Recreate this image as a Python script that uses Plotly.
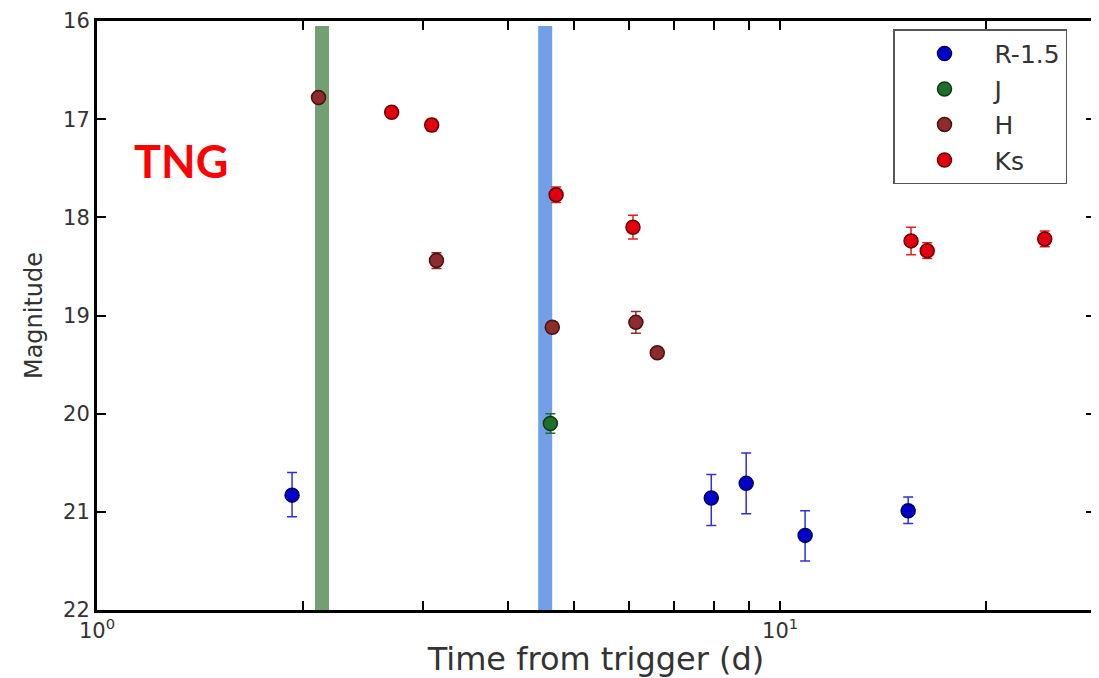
import plotly.graph_objects as go

# R-1.5 band
r_t = [1.93, 7.93, 8.92, 10.88, 15.4]
r_mag = [20.83, 20.86, 20.71, 21.24, 20.99]
r_err_up = [0.22, 0.28, 0.31, 0.26, 0.13]
r_err_dn = [0.23, 0.24, 0.31, 0.25, 0.14]

# J band
j_t = [4.61]
j_mag = [20.10]
j_err = [0.10]

# H band
h_t = [2.11, 3.14, 4.64, 6.15, 6.61]
h_mag = [16.78, 18.44, 19.12, 19.07, 19.38]
h_err = [0.04, 0.08, 0.05, 0.11, 0.04]

# Ks band
k_t = [2.70, 3.09, 4.70, 6.09, 15.55, 16.42, 24.4]
k_mag = [16.93, 17.06, 17.77, 18.10, 18.24, 18.34, 18.22]
k_err = [0.04, 0.06, 0.08, 0.12, 0.14, 0.08, 0.08]

# Observation epochs marked with vertical bands
band_t = [2.135, 4.53]
band_colors = ["rgba(100,150,100,0.9)", "rgba(95,150,230,0.9)"]
band_mag = [16.05, 22.0]

x_ticks = [1, 10]
x_ticktext = ["10<sup>0</sup>", "10<sup>1</sup>"]
x_minor = [2, 3, 4, 5, 6, 7, 8, 9, 20]
y_ticks = [16, 17, 18, 19, 20, 21, 22]

fig = go.Figure()

for t, c in zip(band_t, band_colors):
    fig.add_trace(go.Scatter(x=[t, t], y=band_mag, mode="lines",
                             line=dict(color=c, width=14),
                             showlegend=False, hoverinfo="skip"))

series = [
    ("R-1.5", r_t, r_mag, r_err_up, r_err_dn, "#0000c8", "#00006a", "#3030d0"),
    ("J", j_t, j_mag, j_err, j_err, "#1f6f2a", "#0d3a12", "#1f6f2a"),
    ("H", h_t, h_mag, h_err, h_err, "#8e2b2b", "#4a1010", "#8e2b2b"),
    ("Ks", k_t, k_mag, k_err, k_err, "#e00010", "#6a0000", "#e02020"),
]

for name, xs, ys, eu, ed, fill, edge, ecol in series:
    fig.add_trace(go.Scatter(
        x=xs, y=ys, mode="markers", name=name, legendgroup=name,
        marker=dict(size=14, color=fill, line=dict(color=edge, width=1.5)),
        error_y=dict(type="data", array=eu, arrayminus=ed, symmetric=False,
                     color=ecol, thickness=1.5, width=5),
    ))

fig.add_annotation(x=0.035, y=0.762, xref="paper", yref="paper",
                   text="<b>TNG</b>", showarrow=False,
                   font=dict(family="Comic Sans MS, Lato, sans-serif", size=45, color="#ff0000"),
                   xanchor="left", yanchor="middle")

fam = "DejaVu Sans, sans-serif"
tick_col = "#333333"

fig.update_layout(
    width=1091, height=670,
    margin=dict(l=89, r=4, t=13, b=68),
    paper_bgcolor="white", plot_bgcolor="white",
    font=dict(family=fam, size=20, color=tick_col),
    legend=dict(x=0.7976, y=0.986, xanchor="left", yanchor="top",
                bgcolor="white", bordercolor="#555555", borderwidth=1.5,
                font=dict(family=fam, size=25, color=tick_col),
                itemwidth=90, tracegroupgap=0),
    xaxis=dict(type="log", range=[0, 1.461], automargin=False,
               tickvals=x_ticks, ticktext=x_ticktext,
               ticks="inside", ticklen=9, tickwidth=2, tickcolor="black",
               minor=dict(tickvals=x_minor, ticks="inside", ticklen=9,
                          tickwidth=2, tickcolor="black"),
               showline=True, linecolor="black", linewidth=3, mirror="ticks",
               showgrid=False, zeroline=False,
               title=dict(text="Time from trigger (d)",
                          font=dict(family=fam, size=32, color=tick_col), standoff=2),
               tickfont=dict(family=fam, size=21, color=tick_col)),
    yaxis=dict(range=[22, 16], tickvals=y_ticks, automargin=False,
               ticklabeloverflow="allow",
               ticks="inside", ticklen=9, tickwidth=2, tickcolor="black",
               showline=True, linecolor="black", linewidth=3, mirror="ticks",
               showgrid=False, zeroline=False,
               title=dict(text="Magnitude",
                          font=dict(family=fam, size=24, color=tick_col), standoff=14),
               tickfont=dict(family=fam, size=21, color=tick_col)),
)

fig.write_html("out.html")
